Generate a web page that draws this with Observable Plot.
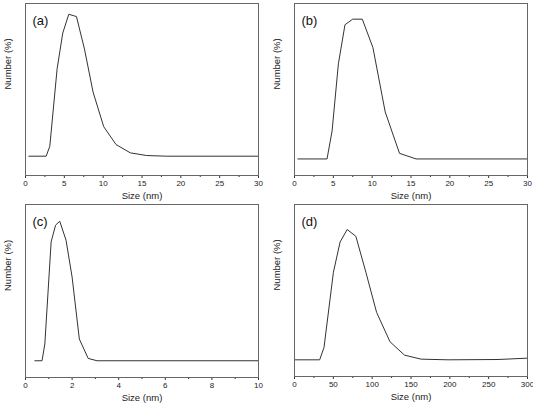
<!DOCTYPE html>
<html>
<head>
<meta charset="utf-8">
<script src="https://cdn.jsdelivr.net/npm/d3@7"></script>
<script src="https://cdn.jsdelivr.net/npm/@observablehq/plot@0.6"></script>
<style>
  html, body { margin: 0; padding: 0; background: #fff; }
  #wrap { position: relative; width: 533px; height: 407px; overflow: hidden; font-family: "Liberation Sans", Arial, sans-serif; }
</style>
</head>
<body>
<div id="wrap"></div>
<script>
// Panel (a)
const sizeA   = [0.43, 2.66, 3.13, 4.07, 4.8, 5.57, 6.56, 7.59, 8.7, 10.07, 11.66, 13.5, 15.6, 18.2, 30];
const numberA = [0, 0, 1.76, 15.4, 21.7, 25, 24.6, 18.9, 11.3, 5.2, 2.05, 0.59, 0.12, 0, 0];
// Panel (b)
const sizeB   = [0.43, 4.19, 4.84, 5.65, 6.5, 7.49, 8.73, 10.1, 11.68, 13.52, 15.66, 30];
const numberB = [0, 0, 5.0, 17.0, 24.0, 25, 25, 19.9, 8.4, 1.0, 0, 0];
// Panel (c)
const sizeC   = [0.4, 0.71, 0.83, 1.1, 1.29, 1.47, 1.74, 2.0, 2.31, 2.69, 3.07, 10];
const numberC = [0, 0, 3.0, 21.3, 24.3, 25, 21.6, 15.0, 3.9, 0.42, 0, 0];
// Panel (d)
const sizeD   = [0, 32.4, 38, 50.1, 58.7, 67.8, 79, 91.9, 105.7, 123, 141.6, 163, 197.7, 262, 300];
const numberD = [0, 0, 2.37, 16.8, 22.6, 25, 23.7, 16.8, 9.1, 3.46, 0.9, 0.13, 0, 0.06, 0.32];

const ticksA = [0, 5, 10, 15, 20, 25, 30];
const minorA = [2.5, 7.5, 12.5, 17.5, 22.5, 27.5];
const ticksC = [0, 2, 4, 6, 8, 10];
const minorC = [1, 3, 5, 7, 9];
const ticksD = [0, 50, 100, 150, 200, 250, 300];
const minorD = [25, 75, 125, 175, 225, 275];

const labels = ["(a)", "(b)", "(c)", "(d)"];
const xTitle = "Size (nm)";
const yTitle = "Number (%)";

const panels = [
  {left: 0,   top: 0,   width: 266, height: 203, mL: 25, mR: 8, mT: 3, mB: 28, x: sizeA, y: numberA, xd: [0, 30],  yd: [-3.4, 26.9], ticks: ticksA, minor: minorA, label: labels[0]},
  {left: 266, top: 0,   width: 267, height: 203, mL: 28, mR: 6, mT: 3, mB: 28, x: sizeB, y: numberB, xd: [0, 30],  yd: [-2.96, 27.8], ticks: ticksA, minor: minorA, label: labels[1]},
  {left: 0,   top: 200, width: 266, height: 207, mL: 25, mR: 8, mT: 4, mB: 30, x: sizeC, y: numberC, xd: [0, 10],  yd: [-3.0, 28.0], ticks: ticksC, minor: minorC, label: labels[2]},
  {left: 266, top: 200, width: 267, height: 207, mL: 28, mR: 6, mT: 4, mB: 31, x: sizeD, y: numberD, xd: [0, 300], yd: [-3.2, 29.8], ticks: ticksD, minor: minorD, label: labels[3]}
];

const wrap = document.getElementById("wrap");
for (const p of panels) {
  const data = p.x.map((v, i) => ({size: v, number: p.y[i]}));
  const chart = Plot.plot({
    width: p.width,
    height: p.height,
    marginLeft: p.mL, marginRight: p.mR, marginTop: p.mT, marginBottom: p.mB,
    style: {fontFamily: "'Liberation Sans', Arial, sans-serif", background: "transparent", color: "#333"},
    x: {domain: p.xd},
    y: {domain: p.yd, axis: null},
    marks: [
      Plot.axisX({ticks: p.minor, tickSize: 2, text: null, label: null, stroke: "#333"}),
      Plot.axisX({ticks: p.ticks, tickSize: 3, tickPadding: 2, label: null, fontSize: 8, fill: "#222", stroke: "#333"}),
      Plot.line(data, {x: "size", y: "number", stroke: "#333", strokeWidth: 1}),
      Plot.frame({stroke: "#666", strokeWidth: 1}),
      Plot.text([xTitle], {frameAnchor: "bottom", text: d => d, dy: 23, fontSize: 9.5, fill: "#222"}),
      Plot.text([yTitle], {frameAnchor: "left", text: d => d, rotate: -90, dx: -18, fontSize: 9.5, fill: "#222"}),
      Plot.text([p.label], {frameAnchor: "top-left", text: d => d, dx: 7, dy: 12, fontSize: 13, textAnchor: "start", fill: "#111"})
    ]
  });
  chart.style.position = "absolute";
  chart.style.left = p.left + "px";
  chart.style.top = p.top + "px";
  wrap.appendChild(chart);
}
</script>
</body>
</html>
